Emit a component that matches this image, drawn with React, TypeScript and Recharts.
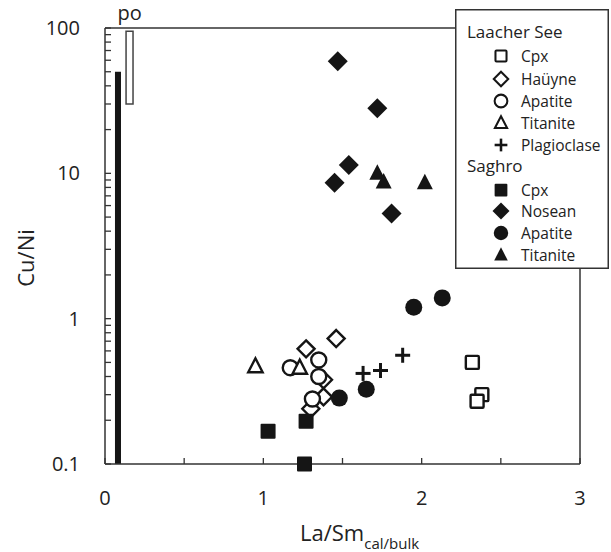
import React from "react"
import {
  ScatterChart,
  Scatter,
  XAxis,
  YAxis,
  ReferenceArea,
  ReferenceLine,
  Legend,
  Label,
} from "recharts"

const FONT = '"Open Sans", "Noto Sans", sans-serif'
const INK = "#151515"
const AXIS = "#333"
const TEXT = "#222"

// axis ticks
const xTicks = [0, 0.5, 1, 1.5, 2, 2.5, 3]
const xLabels = [0, 1, 2, 3]
const yTicks = [
  0.1, 0.2, 0.3, 0.4, 0.5, 0.6, 0.7, 0.8, 0.9,
  1, 2, 3, 4, 5, 6, 7, 8, 9,
  10, 20, 30, 40, 50, 60, 70, 80, 90,
  100,
]
const yLabels = [0.1, 1, 10, 100]

// Laacher See
const laacherCpx = [
  { x: 2.32, y: 0.5 },
  { x: 2.38, y: 0.3 },
  { x: 2.35, y: 0.27 },
]
const laacherHauyne = [
  { x: 1.46, y: 0.73 },
  { x: 1.27, y: 0.62 },
  { x: 1.38, y: 0.38 },
  { x: 1.38, y: 0.29 },
  { x: 1.3, y: 0.24 },
]
const laacherApatite = [
  { x: 1.17, y: 0.46 },
  { x: 1.35, y: 0.52 },
  { x: 1.35, y: 0.4 },
  { x: 1.31, y: 0.28 },
]
const laacherTitanite = [
  { x: 0.95, y: 0.47 },
  { x: 1.23, y: 0.46 },
]
const laacherPlagioclase = [
  { x: 1.63, y: 0.42 },
  { x: 1.74, y: 0.44 },
  { x: 1.88, y: 0.56 },
]

// Saghro
const saghroCpx = [
  { x: 1.03, y: 0.168 },
  { x: 1.27, y: 0.197 },
  { x: 1.26, y: 0.1 },
]
const saghroNosean = [
  { x: 1.47, y: 59 },
  { x: 1.72, y: 28 },
  { x: 1.54, y: 11.4 },
  { x: 1.45, y: 8.6 },
  { x: 1.81, y: 5.3 },
]
const saghroApatite = [
  { x: 1.95, y: 1.2 },
  { x: 2.13, y: 1.39 },
  { x: 1.48, y: 0.284 },
  { x: 1.65, y: 0.327 },
]
const saghroTitanite = [
  { x: 1.72, y: 10 },
  { x: 1.76, y: 8.7 },
  { x: 2.02, y: 8.6 },
]

// pyrrhotite (po) ranges
const poSolid = { x1: 0.063, x2: 0.101, y1: 0.1, y2: 50 }
const poHollow = { x1: 0.133, x2: 0.177, y1: 30, y2: 95 }

type Kind = "square" | "diamond" | "circle" | "triangle" | "plus"

function Marker({ kind, filled, cx, cy, s = 1 }: { kind: Kind; filled: boolean; cx: number; cy: number; s?: number }) {
  const fill = filled ? INK : "#fff"
  const sw = filled ? 0 : 2.4 * s
  if (kind === "square") {
    const h = (filled ? 7.5 : 6.5) * s
    return <rect x={cx - h} y={cy - h} width={h * 2} height={h * 2} rx={1} fill={fill} stroke={INK} strokeWidth={sw} />
  }
  if (kind === "diamond") {
    const r = (filled ? 10 : 8.5) * s
    return <polygon points={`${cx},${cy - r} ${cx + r},${cy} ${cx},${cy + r} ${cx - r},${cy}`} fill={fill} stroke={INK} strokeWidth={sw} strokeLinejoin="miter" />
  }
  if (kind === "circle") {
    const r = (filled ? 8.5 : 7.5) * s
    return <circle cx={cx} cy={cy} r={r} fill={fill} stroke={INK} strokeWidth={sw} />
  }
  if (kind === "triangle") {
    const w = (filled ? 8 : 7.2) * s
    const t = (filled ? 9 : 8) * s
    const b = (filled ? 6.5 : 6) * s
    return <polygon points={`${cx},${cy - t} ${cx + w},${cy + b} ${cx - w},${cy + b}`} fill={fill} stroke={INK} strokeWidth={sw} strokeLinejoin="miter" />
  }
  const a = 7.5 * s
  return (
    <g stroke={INK} strokeWidth={3 * s}>
      <line x1={cx - a} x2={cx + a} y1={cy} y2={cy} />
      <line x1={cx} x2={cx} y1={cy - a} y2={cy + a} />
    </g>
  )
}

const shape = (kind: Kind, filled: boolean) => (props: any) =>
  <Marker kind={kind} filled={filled} cx={props.cx} cy={props.cy} />

function XTick({ x, y, payload }: any) {
  const v = payload.value
  return (
    <g>
      <line x1={x} x2={x} y1={y} y2={y - 6} stroke={AXIS} strokeWidth={1.3} />
      {xLabels.includes(v) && (
        <text x={x} y={y + 41} textAnchor="middle" fontSize={20} fill={TEXT} fontFamily={FONT}>
          {v}
        </text>
      )}
    </g>
  )
}

function YTick({ x, y, payload }: any) {
  const v = payload.value
  return (
    <g>
      <line x1={x} x2={x + 6} y1={y} y2={y} stroke={AXIS} strokeWidth={1.3} />
      {yLabels.includes(v) && (
        <text x={x - 25} y={y + 7} textAnchor="end" fontSize={20} fill={TEXT} fontFamily={FONT}>
          {v}
        </text>
      )}
    </g>
  )
}

const legendRows: { label: string; kind?: Kind; filled?: boolean; y: number }[] = [
  { label: "Laacher See", y: 22 },
  { label: "Cpx", kind: "square", filled: false, y: 47 },
  { label: "Haüyne", kind: "diamond", filled: false, y: 70 },
  { label: "Apatite", kind: "circle", filled: false, y: 92 },
  { label: "Titanite", kind: "triangle", filled: false, y: 114 },
  { label: "Plagioclase", kind: "plus", filled: false, y: 136 },
  { label: "Saghro", y: 156 },
  { label: "Cpx", kind: "square", filled: true, y: 181 },
  { label: "Nosean", kind: "diamond", filled: true, y: 202 },
  { label: "Apatite", kind: "circle", filled: true, y: 224 },
  { label: "Titanite", kind: "triangle", filled: true, y: 246 },
]

function LegendBox() {
  return (
    <svg width={154} height={260} style={{ display: "block" }}>
      <rect x={0.75} y={0.75} width={152.5} height={258.5} fill="#fff" stroke={AXIS} strokeWidth={1.5} />
      {legendRows.map((r, i) =>
        r.kind ? (
          <g key={i}>
            <Marker kind={r.kind} filled={!!r.filled} cx={46} cy={r.y} s={0.85} />
            <text x={66} y={r.y} dominantBaseline="central" fontSize={15.5} fill={TEXT} fontFamily={FONT}>
              {r.label}
            </text>
          </g>
        ) : (
          <text key={i} x={12} y={r.y} dominantBaseline="central" fontSize={17} fill={TEXT} fontFamily={FONT}>
            {r.label}
          </text>
        )
      )}
    </svg>
  )
}

export default function App() {
  return (
    <div style={{ position: "absolute", left: 0, top: 0, width: 611, height: 552, background: "#fff" }}>
      <ScatterChart width={611} height={552} margin={{ top: 28, right: 31, bottom: 0, left: 0 }}>
        <XAxis
          type="number"
          dataKey="x"
          domain={[0, 3]}
          ticks={xTicks}
          interval={0}
          height={88}
          tickSize={0}
          tickMargin={0}
          tickLine={false}
          tick={<XTick />}
          axisLine={{ stroke: AXIS, strokeWidth: 1.5 }}
        >
          <Label
            content={() => (
              <text x={300} y={541} fontSize={22} fill={TEXT} fontFamily={FONT}>
                La/Sm
                <tspan fontSize={15} dy={8}>cal/bulk</tspan>
              </text>
            )}
          />
        </XAxis>
        <YAxis
          type="number"
          dataKey="y"
          scale="log"
          domain={[0.1, 100]}
          ticks={yTicks}
          interval={0}
          width={105}
          tickSize={0}
          tickMargin={0}
          tickLine={false}
          tick={<YTick />}
          axisLine={{ stroke: AXIS, strokeWidth: 1.5 }}
        >
          <Label
            content={() => (
              <text
                x={25}
                y={258}
                transform="rotate(-90 25 258)"
                textAnchor="middle"
                dominantBaseline="central"
                fontSize={22}
                fill={TEXT}
                fontFamily={FONT}
              >
                Cu/Ni
              </text>
            )}
          />
        </YAxis>
        <ReferenceLine y={100} stroke={AXIS} strokeWidth={1.5} ifOverflow="visible" />
        <ReferenceLine x={3} stroke={AXIS} strokeWidth={1.5} ifOverflow="visible" />
        <ReferenceArea {...poSolid} fill={INK} fillOpacity={1} stroke="none" ifOverflow="visible" />
        <ReferenceArea
          {...poHollow}
          fill="#fff"
          fillOpacity={1}
          stroke="#444"
          strokeWidth={1.5}
          ifOverflow="visible"
          label={{ value: "po", position: "top", offset: 11, fontSize: 20, fill: TEXT, fontFamily: FONT }}
        />
        <Scatter name="Haüyne" data={laacherHauyne} shape={shape("diamond", false)} isAnimationActive={false} />
        <Scatter name="Apatite" data={laacherApatite} shape={shape("circle", false)} isAnimationActive={false} />
        <Scatter name="Titanite" data={laacherTitanite} shape={shape("triangle", false)} isAnimationActive={false} />
        <Scatter name="Cpx" data={laacherCpx} shape={shape("square", false)} isAnimationActive={false} />
        <Scatter name="Plagioclase" data={laacherPlagioclase} shape={shape("plus", false)} isAnimationActive={false} />
        <Scatter name="Saghro Cpx" data={saghroCpx} shape={shape("square", true)} isAnimationActive={false} />
        <Scatter name="Nosean" data={saghroNosean} shape={shape("diamond", true)} isAnimationActive={false} />
        <Scatter name="Saghro Apatite" data={saghroApatite} shape={shape("circle", true)} isAnimationActive={false} />
        <Scatter name="Saghro Titanite" data={saghroTitanite} shape={shape("triangle", true)} isAnimationActive={false} />
        <Legend
          layout="vertical"
          align="center"
          verticalAlign="middle"
          content={() => <LegendBox />}
          wrapperStyle={{ left: 455, top: 9, width: 154, height: 260, right: "auto", bottom: "auto" }}
        />
      </ScatterChart>
    </div>
  )
}
